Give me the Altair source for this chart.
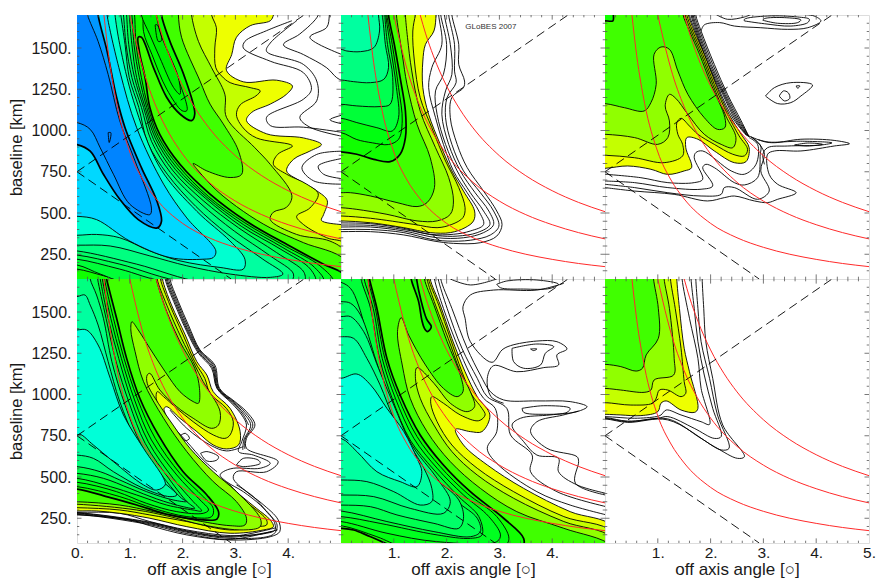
import altair as alt
import pandas as pd

# ---- shared reference curves (angle in degrees, baseline in km)
RED_LOW = [(0.51,1700),(0.6,1455),(0.75,1165),(1,870),(1.25,700),(1.5,585),(2,437),(2.5,350),(3,292),(3.5,250),(4,219),(4.5,194),(5,175)]
RED_MID = [(1.0,1700),(1.1,1560),(1.25,1372),(1.5,1143),(1.75,980),(2,857),(2.5,686),(3,572),(3.5,490),(4,429),(4.5,381),(5,343)]
RED_TOP = [(1.5,1700),(1.6,1590),(1.75,1452),(2,1270),(2.25,1129),(2.5,1016),(3,847),(3.5,726),(4,635),(4.5,564),(5,508)]
DASH_UP = [(0,750),(4.3,1700)]
DASH_DOWN = [(0,750),(2.92,100)]

LEVELS = {
 "n":"transparent","y":"#eeff00","c":"#c4ff00","l":"#90ff00","g":"#40ff00","t":"#10ff00",
 "a":"#00f800","b":"#00ee00",
 "d1":"#00ff10","d2":"#00ff20","d3":"#00ff38","d4":"#00ff50","d5":"#00ff68","d6":"#00ff80",
 "d7":"#00ffa0","d8":"#00ffd0","d9":"#00ffd8","s":"#00d8ff","m":"#0098ff","k":"#0084ff",
}
LINE, THICK = 0.9, 1.7

# each contour: (level, weight, closure, points)  closure E = runs off the right edge, W = off the left edge
P1 = [
 ("n",LINE,"",[(4.07,1665),(3.59,1605),(3.18,1540),(3.15,1500),(3.66,1420),(4.29,1350),(4.44,1250),(4.29,1190),(3.59,1080),(3.66,1030),(4.29,1020),(5.1,985)]),
 ("n",LINE,"",[(4.16,1665),(3.66,1530),(3.59,1480),(4.29,1400),(4.54,1300),(4.54,1180),(4.22,1080),(4.41,1020),(5.1,960)]),
 ("n",LINE,"",[(4.57,1760),(4.57,1700),(4.22,1585),(3.91,1520),(4.29,1460),(4.73,1380),(4.92,1320),(5.1,1290)]),
 ("n",LINE,"",[(4.79,1760),(4.78,1700),(4.73,1625),(4.41,1565),(5.1,1450)]),
 ("n",LINE,"",[(5.1,875),(4.54,855),(4.26,775),(4.48,695),(5.1,675)]),
 ("n",LINE,"",[(5.1,835),(4.57,785),(4.67,735),(5.1,705)]),
 ("n",LINE,"",[(5.1,1100),(4.79,1065),(5.1,1035)]),
 ("y",LINE,"E",[(3.72,1760),(3.72,1700),(3.66,1665),(3.28,1635),(3.02,1565),(2.93,1460),(2.83,1365),(3.15,1295),(3.78,1305),(4.08,1270),(3.97,1220),(3.66,1160),(3.31,1110),(3.21,1060),(3.59,980),(4.29,955),(4.63,915),(4.41,875),(4.10,825),(3.97,755),(4.22,695),(4.54,635),(4.74,575),(4.67,490),(4.63,455),(5.0,430),(5.1,430)]),
 ("c",LINE,"E",[(2.55,1760),(2.55,1700),(2.64,1623),(2.61,1500),(2.63,1380),(2.74,1330),(2.90,1290),(3.28,1260),(3.47,1240),(3.39,1210),(3.09,1155),(3.02,1095),(3.15,1015),(3.40,955),(4.04,915),(4.08,905),(3.80,855),(3.72,795),(3.97,735),(4.35,675),(4.57,615),(4.41,530),(4.16,480),(4.29,430),(4.73,350),(5.1,310)]),
 ("l",LINE,"E",[(2.17,1760),(2.17,1700),(2.30,1540),(2.55,1380),(2.80,1220),(2.83,1080),(3.37,895),(3.66,795),(4.07,605),(3.97,535),(3.72,505),(3.66,460),(4.16,370),(4.79,330),(5.1,260)]),
 ("g",LINE,"E",[(1.92,1760),(1.92,1700),(1.98,1565),(2.33,1300),(2.52,1160),(2.77,1040),(3.06,875),(3.12,735),(2.90,715),(2.46,755),(2.20,800),(2.30,755),(2.65,635),(3.15,510),(3.66,410),(4.29,320),(5.1,210)]),
 ("t",THICK,"E",[(1.60,1760),(1.60,1700),(1.76,1540),(2.02,1340),(2.23,1100),(2.17,1060),(1.95,1100),(1.70,1200),(1.45,1380),(1.22,1565),(1.16,1565),(1.18,1480),(1.29,1320),(1.38,1140),(1.57,975),(1.95,795),(2.52,615),(3.21,450),(3.97,310),(4.67,190),(5.1,120)]),
 ("a",LINE,"",[(1.38,1760),(1.38,1700),(1.55,1580),(1.76,1420),(2.02,1220),(2.08,1120),(1.99,1120),(1.70,1250),(1.42,1460),(1.26,1600),(1.27,1760)]),
 ("b",LINE,"",[(1.22,1760),(1.22,1700),(1.38,1580),(1.57,1440),(1.83,1260),(1.95,1220),(1.92,1320),(1.57,1600),(1.48,1760)]),
 ("n",LINE,"",[(1.48,1640),(1.54,1540),(1.60,1545),(1.52,1640),(1.48,1640)]),
 ("d2",LINE,"W",[(1.07,1745),(1.09,1700),(1.12,1520),(1.22,1320),(1.35,1140),(1.54,965),(1.92,785),(2.49,600),(3.18,440),(3.94,300),(4.60,180),(4.85,80),(1.13,70),(.50,120),(0,160),(-.57,165)]),
 ("d3",LINE,"W",[(1.02,1745),(1.04,1700),(1.08,1520),(1.18,1320),(1.32,1140),(1.51,960),(1.89,775),(2.46,595),(3.15,430),(3.90,290),(4.5,170),(4.67,80),(.94,80),(.44,130),(0,185),(-.57,190)]),
 ("d4",LINE,"W",[(.98,1745),(.99,1700),(1.04,1520),(1.13,1320),(1.29,1140),(1.48,955),(1.86,765),(2.43,590),(3.11,420),(3.86,280),(4.42,160),(4.51,80),(1.76,80),(.81,160),(0,220),(-.57,225)]),
 ("d5",LINE,"W",[(.93,1745),(.94,1700),(.98,1520),(1.09,1320),(1.26,1140),(1.45,945),(1.82,755),(2.39,575),(3.06,410),(3.78,260),(4.30,140),(4.29,80),(2.08,80),(.81,190),(0,245),(-.57,250)]),
 ("d6",LINE,"W",[(.86,1745),(.88,1700),(.93,1520),(1.04,1320),(1.22,1140),(1.41,935),(1.77,745),(2.33,560),(2.98,390),(3.66,240),(4.1,130),(4.03,80),(2.39,80),(1.13,190),(0,270),(-.57,275)]),
 ("d7",LINE,"W",[(.81,1745),(.83,1700),(.91,1520),(.99,1320),(1.17,1140),(1.34,925),(1.71,735),(2.25,540),(2.86,370),(3.52,220),(3.9,130),(3.66,110),(2.90,130),(2.08,180),(1.38,240),(.63,300),(0,305),(-.57,305)]),
 ("d8",LINE,"W",[(.71,1745),(.72,1700),(.81,1520),(1.07,1180),(1.57,775),(2.27,510),(2.90,330),(3.18,220),(3.15,160),(2.71,170),(1.95,210),(1.38,270),(.81,350),(.37,370),(0,365),(-.57,365)]),
 ("s",LINE,"W",[(.56,1745),(.57,1700),(.81,1360),(1.13,1017),(1.64,675),(2.08,470),(2.63,270),(2.58,230),(2.39,220),(1.76,230),(1.0,330),(.37,460),(0,480),(-.57,480)]),
 ("m",THICK,"W",[(.40,1745),(.40,1700),(.57,1480),(.75,1200),(.91,1017),(1.22,775),(1.51,575),(1.60,450),(1.52,410),(1.16,460),(.81,583),(.50,735),(.25,875),(0,915),(-.57,925)]),
 ("k",LINE,"W",[(.18,1745),(.20,1700),(.40,1540),(.59,1340),(.81,1058),(1.10,815),(1.41,530),(1.38,490),(1.0,553),(.69,735),(.44,895),(.25,1007),(0,1048),(-.57,1060)]),
 ("n",LINE,"",[(.59,987),(.64,987),(.61,927),(.59,987)]),
]

P2 = [
 ("n",LINE,"",[(2.10,1745),(2.10,1700),(2.23,1522),(2.23,1400),(2.34,1300),(2.32,1260),(2.10,1200),(2.07,1078),(2.20,916),(2.39,775),(2.70,633),(2.95,512),(3.05,430),(2.95,360),(2.64,320),(2.13,316),(1.76,330),(1.19,367),(.56,387),(0,387),(-.57,387)]),
 ("n",LINE,"",[(2.04,1745),(2.04,1700),(2.15,1522),(2.15,1360),(2.18,1290),(2.01,1200),(1.98,1078),(2.10,916),(2.32,755),(2.64,623),(2.89,512),(2.99,420),(2.83,367),(2.45,335),(2.01,330),(1.69,342),(1.19,381),(.56,400),(0,400),(-.57,400)]),
 ("n",LINE,"",[(1.96,1745),(1.96,1700),(2.07,1522),(2.10,1340),(1.98,1240),(1.91,1098),(2.04,916),(2.26,755),(2.54,623),(2.80,512),(2.89,430),(2.70,381),(2.32,350),(1.82,350),(1.19,391),(.56,415),(0,415),(-.57,415)]),
 ("n",LINE,"",[(1.89,1745),(1.89,1700),(2.0,1522),(1.94,1340),(1.79,1240),(1.82,1098),(1.98,916),(2.20,755),(2.45,623),(2.70,512),(2.82,430),(2.58,381),(2.20,360),(1.82,363),(1.19,400),(.56,425),(0,427),(-.57,427)]),
 ("n",LINE,"",[(1.85,1745),(1.85,1700),(1.91,1522),(1.72,1381),(1.66,1260),(1.79,1078),(1.94,916),(2.13,755),(2.39,623),(2.61,512),(2.70,430),(2.45,391),(2.13,371),(1.69,371),(1.19,407),(.56,435),(0,440),(-.57,440)]),
 ("y",LINE,"W",[(1.80,1745),(1.80,1700),(1.76,1603),(1.60,1522),(1.55,1421),(1.55,1260),(1.66,1098),(1.88,916),(2.10,755),(2.32,633),(2.53,512),(2.51,452),(2.35,411),(2.07,381),(1.69,381),(1.19,411),(.56,441),(0,452),(-.57,452)]),
 ("c",LINE,"W",[(1.44,1745),(1.41,1700),(1.36,1603),(1.39,1421),(1.50,1199),(1.72,1017),(1.98,815),(2.23,654),(2.35,532),(2.31,472),(2.10,431),(1.82,411),(1.38,431),(.56,468),(0,482),(-.57,485)]),
 ("l",LINE,"W",[(1.22,1745),(1.22,1700),(1.26,1563),(1.34,1361),(1.50,1118),(1.79,896),(2.04,714),(2.13,573),(2.07,492),(1.82,452),(1.44,452),(.87,492),(.30,522),(0,532),(-.57,535)]),
 ("g",LINE,"W",[(1.05,1745),(1.05,1700),(1.16,1462),(1.25,1280),(1.44,1037),(1.69,835),(1.77,654),(1.63,563),(1.44,539),(1.06,563),(.56,603),(.18,623),(0,623),(-.57,623)]),
 ("t",THICK,"W",[(.90,1745),(.90,1700),(1.01,1522),(1.12,1320),(1.22,1118),(1.22,957),(1.12,856),(.93,811),(.62,825),(.30,856),(0,870),(-.57,872)]),
 ("d1",LINE,"W",[(.87,1745),(.87,1700),(.97,1522),(1.09,1260),(1.16,1058),(1.09,947),(.90,915),(.60,925),(.30,945),(0,987),(-.57,987)]),
 ("d3",LINE,"W",[(.85,1745),(.85,1700),(.93,1522),(1.05,1260),(1.09,1078),(.97,997),(.68,1017),(.30,1048),(0,1074),(-.57,1074)]),
 ("d4",LINE,"W",[(.83,1745),(.83,1700),(.88,1522),(.98,1320),(.93,1159),(.74,1145),(.30,1149),(0,1159),(-.57,1159)]),
 ("d6",LINE,"W",[(.74,1745),(.78,1700),(.84,1522),(.90,1381),(.81,1310),(.56,1290),(.24,1296),(0,1306),(-.57,1306)]),
 ("d7",LINE,"W",[(.71,1745),(.71,1700),(.73,1603),(.62,1502),(.37,1478),(.11,1482),(0,1492),(-.57,1492)]),
]

P3 = [
 ("n",LINE,"",[(1.72,1745),(1.72,1700),(1.82,1603),(2.07,1401),(2.32,1219),(2.58,1058),(2.73,961)]),
 ("n",LINE,"",[(1.695,1745),(1.695,1700),(1.795,1603),(2.04,1401),(2.295,1219),(2.555,1058),(2.73,961)]),
 ("n",LINE,"",[(1.67,1745),(1.67,1700),(1.77,1603),(2.01,1401),(2.27,1219),(2.53,1058),(2.73,961)]),
 ("n",LINE,"",[(1.65,1745),(1.65,1700),(1.75,1603),(1.985,1401),(2.25,1219),(2.505,1058),(2.71,964)]),
 ("n",LINE,"",[(1.63,1745),(1.63,1700),(1.73,1603),(1.96,1401),(2.23,1219),(2.48,1058),(2.70,967)]),
 ("n",LINE,"",[(1.60,1745),(1.60,1700),(1.71,1603),(1.93,1420),(2.17,1240),(2.43,1070),(2.68,970)]),
 ("n",LINE,"",[(0,735),(.68,714),(1.19,684),(1.69,684),(1.85,704),(1.69,835),(1.72,866),(1.85,876),(2.39,755),(2.64,735),(2.86,795),(2.89,916),(2.73,957)]),
 ("n",LINE,"",[(0,694),(.56,684),(1.19,654),(1.82,644),(2.04,664),(1.85,775),(1.91,795),(2.07,775),(2.45,684),(2.64,670),(2.89,714),(2.94,856),(2.95,906),(2.77,961)]),
 ("n",LINE,"",[(0,674),(.56,654),(1.19,623),(1.82,603),(2.20,613),(2.26,654),(2.45,654),(2.89,583),(3.11,633),(2.95,755),(3.02,856),(2.95,906),(2.83,947),(2.73,967)]),
 ("n",LINE,"",[(0,654),(.56,633),(1.31,613),(1.94,573),(2.26,593),(2.45,603),(2.83,573),(3.08,563),(3.27,583),(3.62,623),(3.27,674),(3.11,734),(3.08,856),(3.21,876),(3.71,876),(4.34,906),(4.63,920),(4.34,940),(3.71,947),(3.21,926),(3.02,932),(2.77,961)]),
 ("n",LINE,"",[(3.02,795),(2.99,856),(3.08,896),(3.46,906),(4.09,912),(4.3,925),(3.7,935),(3.1,930),(2.9,945)]),
 ("n",LINE,"",[(3.59,912),(3.84,924),(4.12,916),(3.84,906),(3.59,912)]),
 ("n",LINE,"",[(1.82,1603),(1.88,1640),(2.17,1654),(2.45,1633),(2.95,1623),(3.46,1613),(3.84,1623),(4.09,1664),(3.96,1694),(3.71,1704)]),
 ("n",LINE,"",[(2.10,1704),(2.32,1674),(2.64,1688),(2.77,1704)]),
 ("n",LINE,"",[(2.64,1664),(3.02,1647),(3.52,1633),(3.84,1654),(3.87,1674),(3.65,1688),(3.08,1694),(2.64,1674),(2.64,1664)]),
 ("n",LINE,"",[(2.99,1668),(3.27,1650),(3.65,1654),(3.71,1670),(3.40,1684),(3.02,1678),(2.99,1668)]),
 ("n",LINE,"",[(3.04,1209),(3.21,1260),(3.52,1290),(3.93,1276),(3.71,1209),(3.52,1169),(3.27,1163),(3.04,1209)]),
 ("n",LINE,"",[(3.30,1209),(3.38,1240),(3.47,1229),(3.50,1195),(3.40,1179),(3.30,1209)]),
 ("n",LINE,"",[(3.62,1270),(3.69,1270),(3.65,1256),(3.62,1270)]),
 ("y",LINE,"W",[(1.58,1745),(1.58,1700),(1.69,1603),(1.88,1462),(2.10,1280),(2.35,1098),(2.58,977),(2.73,896),(2.67,811),(2.45,805),(2.07,876),(1.76,947),(1.55,957),(1.53,896),(1.64,775),(1.50,755),(1.19,734),(.87,765),(.43,785),(0,771),(-.57,771)]),
 ("c",LINE,"W",[(1.55,1745),(1.55,1700),(1.66,1603),(1.85,1462),(2.07,1280),(2.32,1098),(2.54,967),(2.70,886),(2.64,846),(2.42,856),(2.07,916),(1.76,977),(1.60,1027),(1.44,1074),(1.36,1047),(1.38,977),(1.47,916),(1.47,846),(1.12,805),(.56,835),(0,850),(-.57,850)]),
 ("l",LINE,"W",[(1.52,1745),(1.52,1700),(1.63,1603),(1.82,1462),(2.04,1280),(2.29,1088),(2.48,957),(2.42,896),(2.20,916),(1.88,977),(1.57,1098),(1.34,1195),(1.22,1219),(1.14,1149),(1.22,1058),(1.19,957),(1.0,916),(.56,957),(0,977),(-.57,977)]),
 ("g",LINE,"W",[(1.48,1745),(1.48,1700),(1.60,1603),(1.79,1462),(2.01,1280),(2.27,1078),(2.27,1017),(2.13,1007),(1.88,1078),(1.57,1219),(1.38,1361),(1.22,1492),(1.06,1506),(.93,1462),(.97,1280),(.87,1169),(.74,1118),(.37,1138),(0,1163),(-.57,1165)]),
 ("t",THICK,"",[(-.1,1665),(0,1665),(.15,1665),(.16,1700),(.16,1745),(-.1,1745)]),
]

P4 = [
 ("n",LINE,"",[(1.76,1745),(1.76,1700),(1.92,1563),(2.11,1421),(2.33,1270),(2.61,1179),(2.70,1037),(2.99,957),(3.21,896),(3.37,815),(3.21,734),(3.21,674),(3.81,593),(3.59,532),(3.02,532),(2.96,492),(3.21,411),(3.50,340),(3.81,240),(3.84,169),(3.66,138),(2.90,118),(2.08,149),(1.38,205),(1.0,240),(0,270),(-.57,270)]),
 ("n",LINE,"",[(1.67,1745),(1.67,1700),(1.86,1542),(2.08,1381),(2.30,1250),(2.55,1159),(2.65,1037),(2.93,947),(3.12,876),(3.21,815),(3.12,714),(3.06,654),(3.34,633),(3.66,583),(3.47,553),(2.96,553),(2.77,532),(2.71,512),(2.83,472),(3.15,411),(3.47,330),(3.72,240),(3.75,179),(3.59,159),(2.90,145),(2.08,179),(1.38,230),(.81,280),(0,286),(-.57,286)]),
 ("n",LINE,"",[(1.71,1745),(1.71,1700),(1.89,1552),(2.09,1401),(2.32,1260),(2.58,1169),(2.67,1037),(2.96,952),(3.16,886),(3.29,815),(3.16,724),(3.14,664)]),
 ("n",LINE,"",[(1.69,1745),(1.69,1700),(1.875,1547),(2.085,1391),(2.31,1255),(2.565,1164),(2.66,1037),(2.945,950),(3.14,881),(3.25,815)]),
 ("n",LINE,"",[(1.735,1745),(1.735,1700),(1.905,1558),(2.10,1411),(2.325,1265),(2.595,1174),(2.685,1037),(2.975,955),(3.185,891),(3.33,815),(3.185,729),(3.18,670)]),
 ("n",LINE,"",[(3.02,452),(3.34,381),(3.60,286),(3.79,209),(3.72,153),(2.90,128),(2.08,165),(1.38,217),(0,278),(-.57,278)]),
 ("n",LINE,"",[(3.7,170),(2.90,135),(2.08,170),(1.38,222),(0,282),(-.57,282)]),
 ("n",LINE,"",[(3.76,192),(2.90,140),(2.08,174),(1.38,226),(0,284),(-.57,284)]),
 ("n",LINE,"",[(3.8,180),(2.90,122),(2.08,157),(1.38,211),(0,274),(-.57,274)]),
 ("n",LINE,"",[(1.96,751),(2.05,765),(2.13,734),(2.05,720),(1.96,751)]),
 ("n",LINE,"",[(2.34,644),(2.46,654),(2.68,623),(2.65,603),(2.46,597),(2.34,644)]),
 ("n",LINE,"",[(3.02,573),(3.15,613),(3.43,603),(3.47,583),(3.15,563),(3.02,573)]),
 ("n",LINE,"",[(1.76,906),(2.08,795),(2.52,694),(2.83,658),(3.15,684)]),
 ("n",LINE,"",[(1.79,815),(2.08,714),(2.39,603),(2.65,532)]),
 ("y",LINE,"W",[(1.62,1745),(1.62,1700),(1.79,1542),(2.05,1361),(2.27,1199),(2.46,1118),(2.58,1017),(2.90,916),(3.09,775),(3.06,694),(2.83,670),(2.58,694),(2.27,775),(1.95,856),(1.70,926),(1.65,916),(1.67,886),(1.89,755),(2.20,613),(2.58,512),(2.83,468),(3.09,391),(3.40,310),(3.66,240),(3.72,199),(3.53,179),(2.90,159),(2.08,199),(1.38,250),(.81,280),(.37,294),(0,294),(-.57,294)]),
 ("c",LINE,"W",[(1.57,1745),(1.58,1700),(1.76,1542),(2.01,1361),(2.23,1199),(2.42,1098),(2.52,1007),(2.83,916),(2.96,835),(2.90,755),(2.80,734),(2.58,755),(2.20,835),(1.89,916),(1.64,987),(1.52,1017),(1.50,977),(1.60,896),(1.82,775),(2.14,633),(2.52,532),(2.96,411),(3.28,330),(3.59,240),(3.59,209),(3.40,199),(2.90,179),(2.08,230),(1.38,270),(.81,300),(0,314),(-.57,314)]),
 ("l",LINE,"W",[(1.52,1745),(1.52,1700),(1.70,1542),(1.98,1340),(2.20,1199),(2.39,1078),(2.49,1027),(2.71,896),(2.68,815),(2.55,795),(2.20,856),(1.89,926),(1.57,1027),(1.38,1128),(1.33,1118),(1.33,1068),(1.54,947),(1.82,815),(2.14,674),(2.58,532),(3.02,411),(3.47,250),(3.47,199),(3.15,179),(2.39,209),(1.76,260),(1.13,300),(0,335),(-.57,335)]),
 ("g",LINE,"W",[(1.48,1745),(1.50,1700),(1.70,1502),(1.95,1320),(2.23,1159),(2.32,1037),(2.30,947),(2.20,957),(1.95,1017),(1.67,1138),(1.38,1280),(1.16,1391),(1.04,1441),(1.02,1391),(1.10,1260),(1.26,1078),(1.64,856),(2.08,654),(2.58,472),(3.02,351),(3.21,250),(3.18,209),(2.90,205),(2.20,240),(1.45,290),(.81,330),(0,350),(-.57,350)]),
 ("t",THICK,"W",[(.53,1745),(.56,1700),(.75,1462),(.94,1219),(1.19,977),(1.54,755),(2.01,532),(2.46,391),(2.68,290),(2.65,245),(2.39,240),(1.76,270),(1.13,330),(.63,375),(0,427),(-.57,430)]),
 ("d1",LINE,"W",[(.50,1745),(.52,1700),(.69,1462),(.89,1219),(1.14,977),(1.48,735),(1.95,522),(2.39,381),(2.58,310),(2.55,260),(2.08,260),(1.45,310),(.81,381),(0,442),(-.57,445)]),
 ("d2",LINE,"W",[(.47,1745),(.48,1700),(.64,1462),(.84,1219),(1.09,967),(1.41,724),(1.89,512),(2.30,371),(2.49,300),(2.39,280),(1.89,290),(1.32,340),(.75,411),(0,468),(-.57,470)]),
 ("d3",LINE,"W",[(.42,1745),(.44,1700),(.59,1462),(.79,1219),(1.04,957),(1.35,714),(1.82,492),(2.20,351),(2.36,294),(2.20,300),(1.70,330),(1.13,391),(.63,442),(0,492),(-.57,495)]),
 ("d4",LINE,"W",[(.37,1745),(.39,1700),(.55,1462),(.74,1199),(.99,947),(1.29,704),(1.76,482),(2.08,351),(2.23,310),(2.01,320),(1.51,367),(1.0,431),(.50,492),(0,522),(-.57,525)]),
 ("d6",LINE,"W",[(.25,1745),(.25,1700),(.37,1603),(.50,1462),(.66,1199),(.91,936),(1.22,694),(1.70,472),(1.98,371),(2.08,351),(1.82,361),(1.32,411),(.81,482),(.44,532),(0,563),(-.57,565)]),
 ("d7",LINE,"",[(-.57,1570),(0,1593),(.15,1603),(.25,1542),(.40,1421),(.59,1199),(.81,957),(1.13,714),(1.57,492),(1.89,391),(1.76,381),(1.26,431),(.69,532),(.31,613),(0,633),(-.57,635)]),
 ("d9",LINE,"",[(-.57,1370),(0,1391),(.18,1391),(.40,1300),(.63,1098),(.88,876),(1.26,674),(1.64,492),(1.67,452),(1.51,421),(1.26,452),(.69,593),(.31,694),(.06,759),(0,755),(-.57,755)]),
]

P5 = [
 ("n",LINE,"",[(1.76,1745),(1.77,1700),(1.94,1522),(2.20,1300),(2.45,1118),(2.70,977),(2.92,916),(2.95,775),(2.77,674),(2.95,583),(3.71,411),(4.34,330),(5.16,260)]),
 ("n",LINE,"",[(1.82,1745),(1.84,1700),(2.01,1522),(2.29,1280),(2.58,1098),(2.77,987),(3.14,916),(3.21,755),(3.62,633),(3.59,532),(4.09,411),(5.16,310)]),
 ("n",LINE,"",[(1.89,1745),(1.89,1700),(2.10,1522),(2.39,1280),(2.64,1118),(2.83,1017),(3.08,967),(3.71,961),(4.34,957),(4.66,926),(4.47,896),(3.96,876),(3.40,856),(3.24,815),(3.46,714),(3.71,633),(4.12,613),(4.12,532),(4.47,452),(5.16,391)]),
 ("n",LINE,"",[(3.43,916),(3.84,932),(4.34,916),(4.28,892),(3.84,880),(3.46,892),(3.43,916)]),
 ("n",LINE,"",[(4.50,900),(4.2,875),(3.71,835),(3.59,775),(3.90,674),(4.47,623),(4.50,593),(4.44,462),(5.16,381)]),
 ("n",LINE,"",[(4.22,1674),(3.71,1633),(2.89,1633),(2.45,1603),(2.31,1532),(2.35,1462),(2.45,1320),(2.86,1195),(3.05,1270),(3.21,1296),(3.71,1324),(4.09,1320),(4.28,1276),(4.09,1240),(4.12,1179),(3.84,1163),(3.33,1138),(2.89,1175),(2.77,1098),(2.84,987),(3.08,947)]),
 ("n",LINE,"",[(3.24,1280),(3.71,1306),(4.03,1290),(3.87,1250),(3.78,1179),(3.46,1159),(3.27,1199),(3.24,1280)]),
 ("n",LINE,"",[(3.59,1276),(3.71,1276),(3.65,1266),(3.59,1276)]),
 ("n",LINE,"",[(2.95,1668),(3.14,1688),(3.71,1694),(4.12,1668),(3.96,1643),(3.46,1639),(3.02,1647),(2.95,1668)]),
 ("n",LINE,"",[(2.07,1700),(2.45,1664),(2.95,1700)]),
 ("y",LINE,"E",[(1.69,1745),(1.69,1700),(1.88,1542),(2.10,1340),(2.35,1138),(2.58,987),(2.82,876),(2.67,775),(2.45,775),(2.17,789),(2.32,694),(2.77,573),(3.46,431),(4.34,290),(5.16,199)]),
 ("c",LINE,"E",[(1.66,1745),(1.66,1700),(1.85,1542),(2.07,1340),(2.29,1138),(2.48,997),(2.67,916),(2.73,876),(2.61,841),(2.26,876),(1.94,947),(1.72,987),(1.70,947),(1.82,835),(2.10,694),(2.58,553),(3.27,411),(4.22,260),(5.16,165)]),
 ("l",LINE,"E",[(1.62,1745),(1.63,1700),(1.79,1542),(2.03,1340),(2.26,1138),(2.45,1017),(2.53,926),(2.39,896),(2.07,947),(1.76,1068),(1.44,1163),(1.41,1098),(1.50,977),(1.76,815),(2.10,654),(2.58,512),(3.27,371),(4.22,230),(5.16,129)]),
 ("g",LINE,"E",[(1.57,1745),(1.58,1700),(1.76,1542),(2.01,1320),(2.26,1118),(2.31,1017),(2.20,987),(1.94,1037),(1.60,1179),(1.28,1361),(1.14,1466),(1.07,1381),(1.16,1179),(1.31,977),(1.63,775),(2.07,593),(2.64,431),(3.33,290),(4.22,189),(5.16,78)]),
 ("t",THICK,"",[(1.33,1745),(1.33,1700),(1.47,1563),(1.53,1452),(1.58,1401),(1.64,1381),(1.71,1411),(1.62,1458),(1.44,1684),(1.43,1745)]),
 ("t",THICK,"W",[(.52,1745),(.54,1700),(.68,1522),(.87,1219),(1.12,997),(1.50,755),(1.94,573),(2.45,411),(3.08,250),(3.46,128),(3.43,78),(1.06,78),(.56,138),(.24,179),(0,189),(-.57,190)]),
 ("d1",LINE,"W",[(.49,1745),(.51,1700),(.65,1522),(.83,1219),(1.08,987),(1.44,745),(1.88,563),(2.39,401),(2.95,260),(3.18,128),(3.08,78),(1.19,78),(.68,138),(0,205),(-.57,207)]),
 ("d2",LINE,"W",[(.44,1745),(.44,1700),(.61,1522),(.78,1219),(1.03,977),(1.38,734),(1.82,553),(2.32,391),(2.80,260),(3.02,149),(2.95,108),(1.82,108),(.87,159),(0,230),(-.57,232)]),
 ("d3",LINE,"W",[(.38,1745),(.38,1700),(.56,1522),(.73,1219),(.98,967),(1.31,724),(1.76,543),(2.23,381),(2.61,260),(2.67,149),(2.45,128),(1.82,149),(.74,219),(0,260),(-.57,262)]),
 ("d4",LINE,"",[(-.57,1710),(0,1680),(.18,1643),(.33,1542),(.62,1199),(.88,947),(1.22,704),(1.68,512),(2.20,351),(2.58,250),(2.64,169),(2.45,138),(1.76,169),(.87,230),(0,294),(-.57,296)]),
 ("d5",LINE,"",[(-.57,1565),(0,1563),(.18,1553),(.37,1482),(.67,1199),(.93,947),(1.27,704),(1.72,512),(2.23,361),(2.32,250),(2.23,189),(1.76,219),(1.06,270),(.56,320),(0,330),(-.57,330)]),
 ("d6",LINE,"",[(-.57,1478),(0,1472),(.18,1472),(.43,1381),(.71,1159),(1.0,936),(1.34,694),(1.82,492),(2.07,351),(1.94,280),(1.31,310),(.62,381),(0,391),(-.57,391)]),
 ("d7",LINE,"",[(-.57,1355),(0,1351),(.24,1340),(.49,1219),(.74,1058),(1.03,835),(1.57,553),(1.72,431),(1.72,351),(1.50,330),(1.0,411),(.49,472),(0,482),(-.57,482)]),
 ("d9",LINE,"",[(-.57,1100),(0,1098),(.30,1124),(.56,1058),(.87,916),(1.19,775),(1.44,613),(1.53,532),(1.44,442),(1.12,472),(.68,532),(.30,654),(0,734),(-.57,734)]),
]

P6 = [
 ("n",LINE,"",[(1.84,1745),(1.84,1700),(1.87,1522),(1.91,1320),(2.04,1098),(2.23,815),(2.64,623),(2.51,613),(2.07,684),(1.19,846),(.43,831),(0,852),(-.57,852)]),
 ("n",LINE,"",[(1.72,1745),(1.72,1700),(1.76,1522),(1.82,1320),(1.98,1098),(2.13,876),(2.35,674),(2.20,664),(1.82,734),(1.19,852),(.43,835),(0,856),(-.57,856)]),
 ("n",LINE,"",[(1.63,1745),(1.63,1700),(1.69,1522),(1.76,1320),(1.88,1118),(2.04,916),(2.20,745),(2.07,734),(1.69,795),(1.19,866),(1.0,856),(.43,839),(0,860),(-.57,860)]),
 ("n",LINE,"",[(1.46,1745),(1.46,1700),(1.60,1462),(1.76,1219),(1.82,1037),(1.98,819),(1.82,835),(1.44,876),(1.16,906),(1.06,876),(.97,866),(.56,856),(0,866),(-.57,866)]),
 ("y",LINE,"W",[(1.36,1745),(1.36,1700),(1.41,1522),(1.50,1280),(1.60,1138),(1.76,916),(1.70,892),(1.44,906),(1.16,961),(1.06,947),(1.0,896),(.68,872),(.30,876),(0,880),(-.57,880)]),
 ("c",LINE,"W",[(1.24,1745),(1.24,1700),(1.33,1522),(1.44,1280),(1.50,1078),(1.53,1007),(1.44,987),(1.19,1027),(1.03,1027),(.97,977),(.90,947),(.49,936),(0,951),(-.57,951)]),
 ("l",LINE,"W",[(1.12,1745),(1.12,1700),(1.22,1522),(1.31,1219),(1.30,1118),(.93,1088),(.87,1027),(.74,1013),(.30,1027),(0,1037),(-.57,1037)]),
 ("g",LINE,"W",[(.92,1745),(.92,1700),(1.01,1522),(1.01,1340),(.78,1240),(.71,1159),(.59,1142),(.30,1169),(0,1183),(-.57,1183)]),
]

X_MINOR = [i / 5 for i in range(1, 25)]
X_MAJOR = [1, 2, 3, 4]
Y_MINOR = list(range(150, 1700, 50))
Y_MAJOR = [250, 500, 750, 1000, 1250, 1500]
GLOBES = [(2.84, 1627, "GLoBES 2007")]

FONT = "Liberation Sans"
DOM_X, DOM_Y = [0, 5], [100, 1700]
EAST = [(5.6, -150), (-0.6, -150), (-0.6, 2000)]
WEST = [(-0.6, 2000)]


def contour_table(contours):
    rows = []
    for pid, (lev, w, close, pts) in enumerate(contours):
        extra = EAST if close == "E" else WEST if close == "W" else []
        for i, (a, b) in enumerate(list(pts) + extra):
            rows.append({"a": a, "b": b, "i": i, "pid": pid, "f": LEVELS[lev], "w": w})
    return pd.DataFrame(rows)


def curve_table(*curves):
    return pd.DataFrame([{"a": a, "b": b, "i": i, "c": c}
                         for c, pts in enumerate(curves) for i, (a, b) in enumerate(pts)])


def tick_table():
    rows = []
    for v in X_MINOR:
        long_ = v in X_MAJOR
        h = 28 if long_ else 14
        rows.append({"a": v, "a2": v, "b": 100, "b2": 100 + h})
        rows.append({"a": v, "a2": v, "b": 1700, "b2": 1700 - h})
    for v in Y_MINOR:
        long_ = v in Y_MAJOR
        d = 0.085 if long_ else 0.043
        rows.append({"a": 0, "a2": d, "b": v, "b2": v})
        rows.append({"a": 5, "a2": 5 - d, "b": v, "b2": v})
    return pd.DataFrame(rows)


def panel(contours, xvals, show_y, show_x, label=False):
    xaxis = alt.Axis(values=xvals, labelExpr="datum.value + '.'", ticks=False, domain=False, grid=False,
                     labelFont=FONT, labelFontSize=15.5, labelColor="#1a1a1a", labelPadding=2, labelFlush=False,
                     labelOverlap=False, title="off axis angle [○]", titleFont=FONT, titleFontSize=17,
                     titleFontWeight="normal", titleColor="#1a1a1a", titlePadding=1) if show_x else None
    yaxis = alt.Axis(values=Y_MAJOR, labelExpr="datum.value + '.'", ticks=False, domain=False, grid=False,
                     labelFont=FONT, labelFontSize=16, labelColor="#1a1a1a", labelPadding=6, labelFlush=False,
                     labelOverlap=False, title="baseline [km]", titleFont=FONT, titleFontSize=16.5,
                     titleFontWeight="normal", titleColor="#1a1a1a", titlePadding=6) if show_y else None
    X = alt.X("a:Q", scale=alt.Scale(domain=DOM_X, nice=False, zero=False), axis=xaxis)
    Y = alt.Y("b:Q", scale=alt.Scale(domain=DOM_Y, nice=False, zero=False), axis=yaxis)

    fills = alt.Chart(contour_table(contours)).mark_line(clip=True, interpolate="catmull-rom", strokeJoin="round").encode(
        x=X, y=Y, order=alt.Order("i:Q"), detail="pid:Q",
        fill=alt.Fill("f:N", scale=None),
        stroke=alt.value("#000000"),
        strokeWidth=alt.StrokeWidth("w:Q", scale=None),
    )
    red = alt.Chart(curve_table(RED_LOW, RED_MID, RED_TOP)).mark_line(
        clip=True, color="#ff2a2a", strokeWidth=1.0, interpolate="monotone").encode(
        x=X, y=Y, order=alt.Order("i:Q"), detail="c:Q")
    dash = alt.Chart(curve_table(DASH_UP, DASH_DOWN)).mark_line(
        clip=True, color="#000000", strokeWidth=0.9, strokeDash=[9, 5]).encode(
        x=X, y=Y, order=alt.Order("i:Q"), detail="c:Q")
    ticks = alt.Chart(tick_table()).mark_rule(color="#555555", strokeWidth=0.8).encode(
        x=X, x2="a2:Q", y=Y, y2="b2:Q",
    )
    layers = [fills, red, dash, ticks]
    if label:
        txt = pd.DataFrame([{"a": a, "b": b, "t": t} for a, b, t in GLOBES])
        layers.append(alt.Chart(txt).mark_text(font=FONT, fontSize=8, color="#333333").encode(x=X, y=Y, text="t:N"))
    return alt.layer(*layers).properties(width=264, height=264)


charts = [
    panel(P1, [0, 1, 2, 3, 4], True, False),
    panel(P2, X_MAJOR, False, False, label=True),
    panel(P3, X_MAJOR, False, False),
    panel(P4, [0, 1, 2, 3, 4], True, True),
    panel(P5, X_MAJOR, False, True),
    panel(P6, [1, 2, 3, 4, 5], False, True),
]
chart = alt.concat(*charts, columns=3, spacing=0, bounds="flush").properties(
    padding={"left": 0, "top": 6, "right": 0, "bottom": 0}
).configure_view(stroke="#666666", strokeWidth=1.5).configure(background="white")
chart.save("out.html", embed_options={"renderer": "svg", "actions": False})
